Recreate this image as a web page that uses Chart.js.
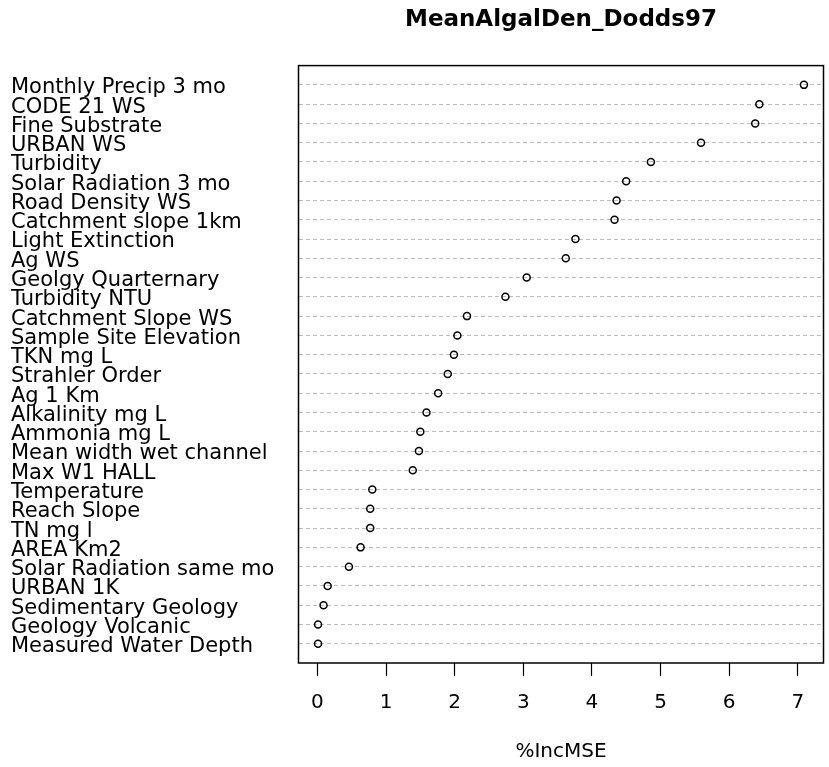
<!DOCTYPE html>
<html>
<head>
<meta charset="utf-8">
<script src="https://cdn.jsdelivr.net/npm/chart.js@4"></script>
<style>
  html, body { margin: 0; padding: 0; background: #fff; }
  #wrap { width: 829px; height: 767px; }
</style>
</head>
<body>
<div id="wrap"><canvas id="grafico" width="829" height="767"></canvas></div>
<script>
// variables, de mayor a menor importancia
const variables = [
    'Monthly Precip 3 mo', 'CODE 21 WS', 'Fine Substrate', 'URBAN WS', 'Turbidity',
    'Solar Radiation 3 mo', 'Road Density WS', 'Catchment slope 1km', 'Light Extinction', 'Ag WS',
    'Geolgy Quarternary', 'Turbidity NTU', 'Catchment Slope WS', 'Sample Site Elevation', 'TKN mg L',
    'Strahler Order', 'Ag 1 Km', 'Alkalinity mg L', 'Ammonia mg L', 'Mean width wet channel',
    'Max W1 HALL', 'Temperature', 'Reach Slope', 'TN mg l', 'AREA Km2',
    'Solar Radiation same mo', 'URBAN 1K', 'Sedimentary Geology', 'Geology Volcanic', 'Measured Water Depth'
];
const incMSE = [
    7.09, 6.44, 6.38, 5.59, 4.86,
    4.50, 4.36, 4.33, 3.76, 3.62,
    3.05, 2.74, 2.18, 2.04, 1.99,
    1.90, 1.76, 1.59, 1.50, 1.48,
    1.39, 0.80, 0.77, 0.77, 0.63,
    0.46, 0.15, 0.09, 0.01, 0.01
];
const xTicks = [0, 1, 2, 3, 4, 5, 6, 7];
const titulo = 'MeanAlgalDen_Dodds97';
const tituloX = '%IncMSE';

const fuente = "'DejaVu Sans', sans-serif";

// marco alrededor del area del grafico
const marco = {
    id: 'marco',
    afterDraw(chart) {
        const a = chart.chartArea;
        const ctx = chart.ctx;
        ctx.save();
        ctx.strokeStyle = '#000';
        ctx.lineWidth = 1.5;
        ctx.strokeRect(a.left, a.top, a.right - a.left, a.bottom - a.top);
        ctx.restore();
    }
};

const ctx = document.getElementById('grafico').getContext('2d');
const myChart = new Chart(ctx, {
    type: 'scatter',
    data: {
        datasets: [{
            data: incMSE.map((v, i) => ({ x: v, y: i + 1 })),
            pointStyle: 'circle',
            pointRadius: 3.5,
            pointBorderWidth: 1.5,
            borderColor: '#000',
            backgroundColor: 'rgba(0,0,0,0)',
        }],
    },
    options: {
        responsive: false,
        animation: false,
        events: [],
        layout: { padding: { left: 11, right: 4, top: 0, bottom: 3 } },
        plugins: {
            legend: { display: false },
            tooltip: { enabled: false },
            title: {
                display: true,
                text: titulo,
                color: '#000',
                fullSize: false,
                font: { family: fuente, size: 23, weight: 'bold' },
                padding: { top: 6, bottom: 32 },
            },
        },
        scales: {
            x: {
                type: 'linear',
                min: -0.275,
                max: 7.375,
                afterBuildTicks: (scale) => {
                    scale.ticks = xTicks.map(v => ({ value: v }));
                },
                ticks: {
                    color: '#000',
                    padding: 15,
                    font: { family: fuente, size: 20 },
                },
                grid: {
                    drawOnChartArea: false,
                    drawTicks: true,
                    tickLength: 13,
                    tickColor: '#000',
                    tickWidth: 1.2,
                },
                border: { display: false },
                title: {
                    display: true,
                    text: tituloX,
                    color: '#000',
                    font: { family: fuente, size: 20 },
                    padding: { top: 10, bottom: 0 },
                },
            },
            y: {
                type: 'linear',
                min: 0,
                max: variables.length + 1,
                reverse: true,
                afterFit: (scale) => { scale.width = 287.5; },
                ticks: {
                    stepSize: 1,
                    autoSkip: false,
                    crossAlign: 'far',
                    padding: 0,
                    labelOffset: 3,
                    color: '#000',
                    font: { family: fuente, size: 21 },
                    callback: (value) => (value >= 1 && value <= variables.length) ? variables[value - 1] : '',
                },
                grid: {
                    drawTicks: false,
                    lineWidth: 1,
                    color: (c) => (c.tick && c.tick.value >= 1 && c.tick.value <= variables.length) ? '#bebebe' : 'rgba(0,0,0,0)',
                },
                border: { display: false, dash: [4, 3] },
            },
        },
    },
    plugins: [marco],
});
</script>
</body>
</html>
